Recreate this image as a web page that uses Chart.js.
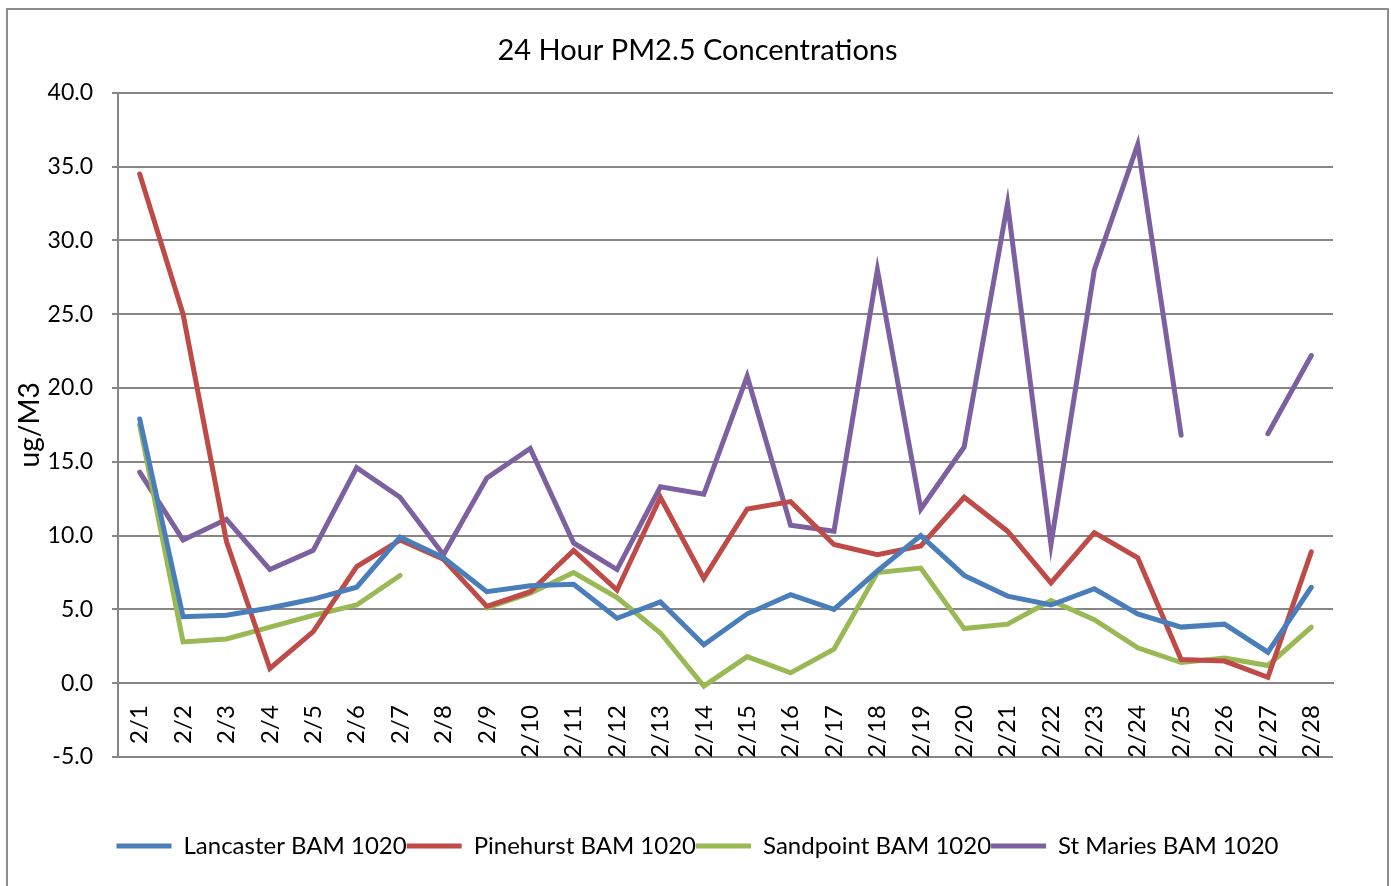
<!DOCTYPE html>
<html>
<head>
<meta charset="utf-8">
<script src="https://cdn.jsdelivr.net/npm/chart.js@4/dist/chart.umd.min.js"></script>
<style>
html,body{margin:0;padding:0;background:#fff;}
#wrap{width:1391px;height:886px;position:relative;}
</style>
</head>
<body>
<div id="wrap"><canvas id="c" width="1391" height="886"></canvas></div>
<script>
const categories = ["2/1","2/2","2/3","2/4","2/5","2/6","2/7","2/8","2/9","2/10","2/11","2/12","2/13","2/14","2/15","2/16","2/17","2/18","2/19","2/20","2/21","2/22","2/23","2/24","2/25","2/26","2/27","2/28"];
const lancaster = [17.9,4.5,4.6,5.1,5.7,6.5,9.9,8.5,6.2,6.6,6.7,4.4,5.5,2.6,4.7,6.0,5.0,7.6,10.0,7.3,5.9,5.3,6.4,4.7,3.8,4.0,2.1,6.5];
const pinehurst = [34.5,25.0,9.6,1.0,3.5,7.9,9.7,8.4,5.2,6.2,9.0,6.3,12.6,7.1,11.8,12.3,9.4,8.7,9.3,12.6,10.3,6.8,10.2,8.5,1.6,1.5,0.4,8.9];
const sandpoint = [17.5,2.8,3.0,3.8,4.6,5.3,7.3,null,5.1,6.1,7.5,5.8,3.4,-0.2,1.8,0.7,2.3,7.5,7.8,3.7,4.0,5.6,4.3,2.4,1.4,1.7,1.2,3.8];
const stMaries = [14.3,9.7,11.1,7.7,9.0,14.6,12.6,8.7,13.9,15.9,9.5,7.7,13.3,12.8,20.8,10.7,10.3,28.0,11.8,16.0,32.5,9.4,28.0,36.5,16.8,null,16.9,22.2];
const seriesNames = ["Lancaster BAM 1020","Pinehurst BAM 1020","Sandpoint BAM 1020","St Maries BAM 1020"];
const yTicks = [-5,0,5,10,15,20,25,30,35,40];

const colors = ["#4A7EBB","#BE4B48","#98B954","#7D60A0"];
const FONT = "Lato, 'Open Sans', sans-serif";

const frame = {
  id:'frame',
  beforeDraw(chart){
    const ctx = chart.ctx;
    ctx.save();
    ctx.fillStyle = '#fff';
    ctx.fillRect(0,0,chart.width,chart.height);
    ctx.strokeStyle = '#8c8c8c';
    ctx.lineWidth = 2;
    ctx.strokeRect(7,9,1381,900);
    ctx.restore();
  }
};

const mk = (i, data) => ({
  label: seriesNames[i],
  data: data,
  borderColor: colors[i],
  backgroundColor: colors[i],
  borderWidth: 5,
  pointRadius: 0,
  pointHoverRadius: 0,
  tension: 0,
  spanGaps: false,
  borderCapStyle: 'round',
  borderJoinStyle: 'miter'
});

new Chart(document.getElementById('c'), {
  type: 'line',
  data: {
    labels: categories,
    datasets: [mk(0,lancaster), mk(1,pinehurst), mk(2,sandpoint), mk(3,stMaries)]
  },
  options: {
    responsive: false,
    animation: false,
    layout: { padding: { left: 12, right: 8, top: 17, bottom: 18 } },
    plugins: {
      tooltip: { enabled: false },
      title: {
        display: true,
        text: '24 Hour PM2.5 Concentrations',
        color: '#000',
        font: { family: FONT, size: 29, weight: 'normal' },
        padding: { top: 16, bottom: 25 }
      },
      legend: {
        position: 'bottom',
        labels: {
          color: '#000',
          font: { family: FONT, size: 24 },
          boxWidth: 55,
          boxHeight: 5,
          padding: 0,
          generateLabels(chart){
            return chart.data.datasets.map((d,i)=>({
              text: d.label, fillStyle: d.borderColor, strokeStyle: d.borderColor,
              lineWidth: 0, hidden: false, datasetIndex: i
            }));
          }
        }
      }
    },
    scales: {
      x: {
        offset: true,
        position: { y: 0 },
        grid: { display: false },
        border: { display: true, color: '#868686', width: 2 },
        ticks: {
          color: '#000',
          font: { family: FONT, size: 24 },
          maxRotation: 90, minRotation: 90,
          autoSkip: false,
          padding: 14
        }
      },
      xspace: {
        type: 'category',
        position: 'bottom',
        labels: [''],
        grid: { display: false, drawTicks: false },
        border: { display: false },
        ticks: { display: false },
        afterFit(s){ s.height = 77; }
      },
      yspace: {
        type: 'linear',
        position: 'right',
        grid: { display: false, drawTicks: false },
        border: { display: false },
        ticks: { display: false },
        afterFit(s){ s.width = 50; }
      },
      y: {
        min: -5, max: 40,
        afterBuildTicks(axis){ axis.ticks = yTicks.map(v=>({value:v})); },
        afterFit(s){ s.width = 106; },
        grid: { color: '#868686', lineWidth: 2, drawTicks: true, tickLength: 6 },
        border: { display: true, color: '#868686', width: 2 },
        ticks: {
          color: '#000',
          font: { family: FONT, size: 23 },
          padding: 19,
          callback: v => Number(v).toFixed(1)
        },
        title: {
          display: true,
          text: 'ug/M3',
          color: '#000',
          font: { family: FONT, size: 28 },
          padding: { top: 1, bottom: 0 }
        }
      }
    }
  },
  plugins: [frame]
});
</script>
</body>
</html>
